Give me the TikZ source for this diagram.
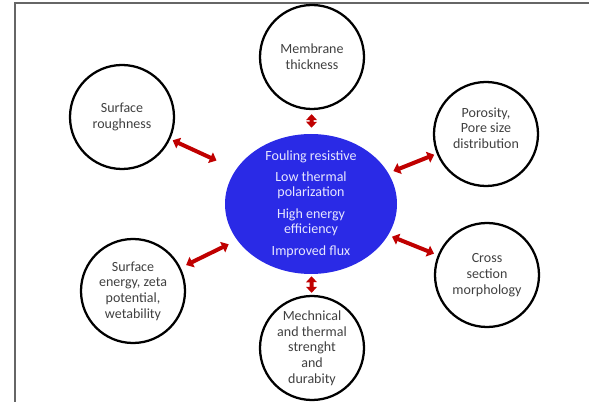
\documentclass[tikz,border=0pt]{standalone}
\usepackage{fontspec}
\setmainfont{Carlito}
\usetikzlibrary{arrows.meta,shapes.geometric}
\usepackage{xcolor}
\definecolor{Core}{HTML}{2A2AE6}
\definecolor{CoreText}{HTML}{E6E6FF}
\definecolor{Link}{HTML}{C00000}
\definecolor{Label}{HTML}{404040}
\newcommand{\Factor}[5][]{%
  \node[circle,draw=black,line width=1.7pt,minimum size=78pt,inner sep=0pt,align=center,text=Label,font=\fontsize{10.5}{11.75}\selectfont,#1] (#2) at (#3,#4) {#5};%
}
\tikzset{
  link/.style={draw=Link,line width=3pt,{Triangle[width=8.5pt,length=5pt]}-{Triangle[width=8.5pt,length=5pt]}},
  shortlink/.style={draw=Link,line width=3pt,{Triangle[width=8pt,length=4.5pt]}-{Triangle[width=8pt,length=4.5pt]}}
}

\begin{document}
\begin{tikzpicture}[x=0.75pt,y=-0.75pt]
\useasboundingbox (0,0) rectangle (589,402);
\draw[black!60,line width=0.8pt] (15,402) -- (15,3) -- (589,3);
% centre
\node[ellipse,fill=Core,minimum width=129pt,minimum height=105pt,inner sep=0pt] (core) at (311,204) {};
\node[align=center,text=CoreText,font=\fontsize{10.5}{11.25}\selectfont] (coretext) at (core) {Fouling resistive\\[5pt]Low thermal\\polarization\\[5pt]High energy\\efficiency\\[5pt]Improved flux};
% factors
\Factor{thick}{312}{57}{Membrane\\thickness}
\Factor{rough}{122}{117}{Surface\\roughness}
\Factor[text depth=9pt]{pore}{486}{134}{Porosity,\\Pore size\\distribution}
\Factor{cross}{487}{275}{Cross\\section\\morphology}
\Factor{energy}{133}{291}{Surface\\energy, zeta\\potential,\\wetability}
\Factor{mech}{312}{348}{Mechnical\\and thermal\\strenght\\and\\durabity}
% arrows
\foreach \f/\s/\e in {rough/2pt/16pt,pore/2pt/4pt,cross/3pt/3pt,energy/4.5pt/7pt} {
  \draw[link,shorten <=\s,shorten >=\e] (\f) -- (core);
}
\draw[shortlink,shorten <=3pt,shorten >=4.5pt] (thick) -- (core);
\draw[shortlink,shorten <=1.5pt,shorten >=1.5pt] (mech) -- (core);
\end{tikzpicture}
\end{document}
